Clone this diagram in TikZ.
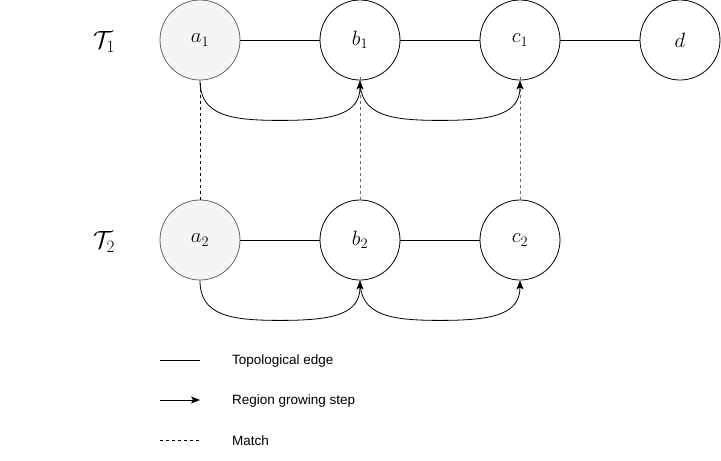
\documentclass[tikz,border=0pt]{standalone}
\usepackage{fontspec}
\setsansfont{Liberation Sans}
\usetikzlibrary{arrows.meta}
\definecolor{afill}{HTML}{F5F5F5}
\definecolor{astroke}{HTML}{666666}
\tikzset{
  vnode/.style={circle,draw=black,fill=white,line width=0.8pt,minimum size=80pt,inner sep=0pt,font=\fontsize{22}{26}\selectfont},
  anode/.style={vnode,draw=astroke,fill=afill},
  topoedge/.style={draw=black,line width=0.8pt},
  growstep/.style={draw=black,line width=0.8pt,-{Stealth[length=9pt,width=7pt,inset=2pt]}},
  matchb/.style={draw=black,line width=0.8pt,dash pattern=on 3pt off 3pt},
  matchg/.style={draw=black!60,line width=0.8pt,dash pattern=on 3pt off 3pt},
  tlabel/.style={font=\fontsize{27}{30}\selectfont},
  legtext/.style={anchor=west,font=\sffamily\fontsize{13.5}{16}\selectfont,inner sep=0pt}
}
\begin{document}
\begin{tikzpicture}[x=1pt,y=-1pt]
\useasboundingbox (0,0) rectangle (721,461);
% labels
\node[tlabel] (T1) at (104,42) {$\mathcal{T}_1$};
\node[tlabel] (T2) at (104,242) {$\mathcal{T}_2$};
% nodes
\node[anode] (a1) at (200,40) {$a_1$};
\node[vnode] (b1) at (360,40) {$b_1$};
\node[vnode] (c1) at (520,40) {$c_1$};
\node[vnode] (d)  at (680,40) {$d$};
\node[anode] (a2) at (200,240) {$a_2$};
\node[vnode] (b2) at (360,240) {$b_2$};
\node[vnode] (c2) at (520,240) {$c_2$};
% topological edges
\draw[topoedge] (a1) -- (b1);
\draw[topoedge] (b1) -- (c1);
\draw[topoedge] (c1) -- (d);
\draw[topoedge] (a2) -- (b2);
\draw[topoedge] (b2) -- (c2);
% matches
\draw[matchb] (a2.north) -- (a1.south);
\draw[matchg] (b2.north) -- ([yshift=6pt]b1.south);
\draw[matchg] (c2.north) -- ([yshift=6pt]c1.south);
% growing steps
\draw[growstep] (a1.south) .. controls +(0,35) and +(-50,0) .. ([shift={(80,40)}]a1.south) .. controls +(50,0) and +(0,35) .. (b1.south);
\draw[growstep] (b1.south) .. controls +(0,35) and +(-50,0) .. ([shift={(80,40)}]b1.south) .. controls +(50,0) and +(0,35) .. (c1.south);
\draw[growstep] (a2.south) .. controls +(0,35) and +(-50,0) .. ([shift={(80,40)}]a2.south) .. controls +(50,0) and +(0,35) .. (b2.south);
\draw[growstep] (b2.south) .. controls +(0,35) and +(-50,0) .. ([shift={(80,40)}]b2.south) .. controls +(50,0) and +(0,35) .. (c2.south);
% legend
\coordinate (l1a) at (160,360); \coordinate (l1b) at (200,360);
\coordinate (l2a) at (160,400); \coordinate (l2b) at (200,400);
\coordinate (l3a) at (160,440); \coordinate (l3b) at (200,440);
\draw[topoedge] (l1a) -- (l1b);
\draw[growstep] (l2a) -- (l2b);
\draw[draw=black,line width=0.6pt,dash pattern=on 3pt off 3pt] (l3a) -- (l3b);
\node[legtext] (t1) at (232,361) {Topological edge};
\node[legtext] (t2) at (232,401) {Region growing step};
\node[legtext] (t3) at (232,441) {Match};
\end{tikzpicture}
\end{document}
